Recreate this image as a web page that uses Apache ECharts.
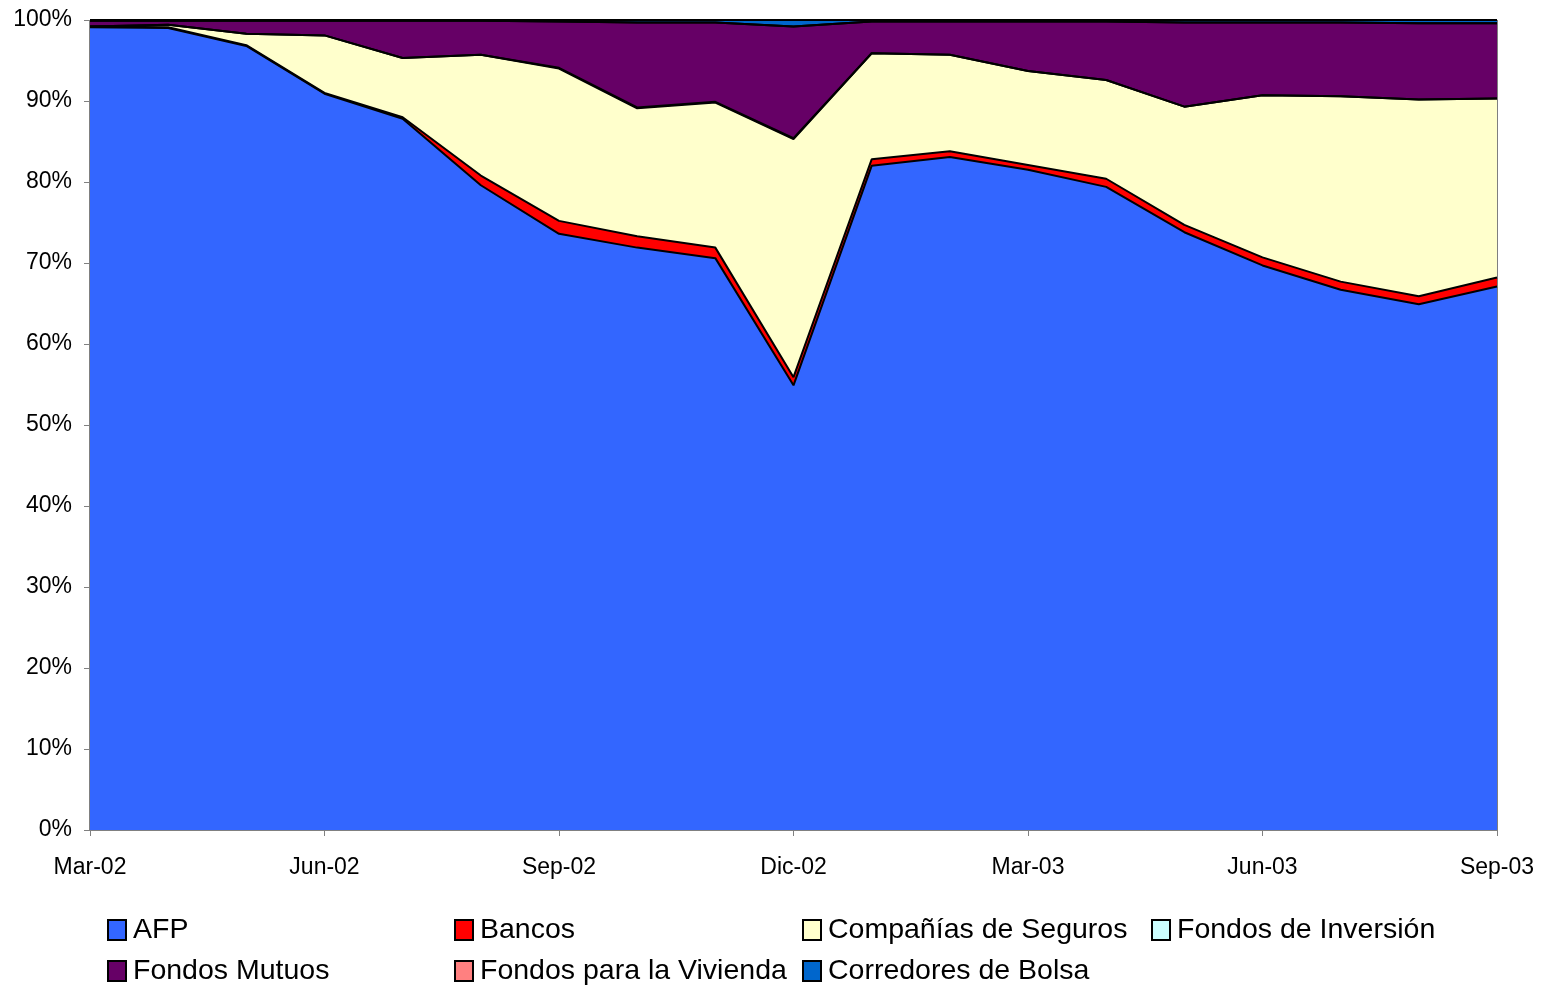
<!DOCTYPE html>
<html>
<head>
<meta charset="utf-8">
<script src="https://cdn.jsdelivr.net/npm/echarts@6/dist/echarts.min.js"></script>
<style>
  html, body { margin: 0; padding: 0; background: #fff; }
  #main { width: 1547px; height: 987px; }
</style>
</head>
<body>
<div id="main"></div>
<script>
// meses (eje x)
var months = ['Mar-02', 'Abr-02', 'May-02', 'Jun-02', 'Jul-02', 'Ago-02', 'Sep-02', 'Oct-02', 'Nov-02', 'Dic-02',
  'Ene-03', 'Feb-03', 'Mar-03', 'Abr-03', 'May-03', 'Jun-03', 'Jul-03', 'Ago-03', 'Sep-03'];

// participación (%) por tipo de inversionista
var afp        = [99.1, 99.0, 96.8, 90.9, 87.8, 79.6, 73.6, 71.9, 70.6, 54.9, 82.0, 83.1, 81.5, 79.4, 73.8, 69.7, 66.7, 64.9, 67.1];
var bancos     = [0.1, 0.1, 0.1, 0.1, 0.2, 1.2, 1.6, 1.4, 1.3, 1.0, 0.8, 0.7, 0.6, 1.0, 0.9, 1.0, 1.0, 1.0, 1.1];
var seguros    = [0.0, 0.3, 1.4, 7.1, 7.3, 14.9, 18.8, 15.8, 17.9, 29.4, 13.1, 11.9, 11.6, 12.2, 14.6, 20.0, 22.9, 24.3, 22.1];
var fInversion = [0.0, 0.0, 0.0, 0.0, 0.0, 0.0, 0.1, 0.1, 0.1, 0.1, 0.0, 0.0, 0.0, 0.0, 0.0, 0.0, 0.0, 0.0, 0.0];
var fMutuos    = [0.7, 0.5, 1.6, 1.8, 4.6, 4.2, 5.7, 10.5, 9.8, 13.8, 3.9, 4.1, 6.1, 7.2, 10.4, 9.0, 9.1, 9.4, 9.3];
var fVivienda  = [0.0, 0.0, 0.0, 0.0, 0.0, 0.0, 0.0, 0.0, 0.0, 0.0, 0.0, 0.0, 0.0, 0.0, 0.0, 0.0, 0.0, 0.0, 0.0];
var corredores = [0.1, 0.1, 0.1, 0.1, 0.1, 0.1, 0.2, 0.3, 0.3, 0.8, 0.2, 0.2, 0.2, 0.2, 0.3, 0.3, 0.3, 0.4, 0.4];

var yTicks = [0, 10, 20, 30, 40, 50, 60, 70, 80, 90, 100];

var names = ['AFP', 'Bancos', 'Compañías de Seguros', 'Fondos de Inversión', 'Fondos Mutuos', 'Fondos para la Vivienda', 'Corredores de Bolsa'];
var values = [afp, bancos, seguros, fInversion, fMutuos, fVivienda, corredores];
var colors = ['#3366FF', '#FF0000', '#FFFFCC', '#CCFFFF', '#660066', '#FF8080', '#0066CC'];

var font = 'Liberation Sans, Arial, sans-serif';

var series = names.map(function (n, i) {
  return {
    name: n,
    type: 'line',
    stack: 'total',
    symbol: 'none',
    data: values[i],
    itemStyle: { color: colors[i] },
    lineStyle: { color: '#000', width: 2 },
    areaStyle: { color: colors[i], opacity: 1 }
  };
});

// posiciones de la leyenda: 4 columnas, 2 filas
var legendLeft = [102, 449, 797, 1146, 102, 449, 797];
var legendTop = [910, 910, 910, 910, 951, 951, 951];

var legends = names.map(function (n, i) {
  return {
    left: legendLeft[i],
    top: legendTop[i],
    icon: 'rect',
    itemWidth: 18,
    itemHeight: 20,
    data: [n],
    itemStyle: { borderColor: '#000', borderWidth: 2 },
    lineStyle: { width: 0 },
    textStyle: { fontFamily: font, fontSize: 28.5, color: '#000', lineHeight: 30, padding: [0, 0, 0, 2] }
  };
});

var chart = echarts.init(document.getElementById('main'));
var option = {
  animation: false,
  backgroundColor: '#fff',
  grid: { left: 90, right: 50, top: 20, bottom: 157, show: true, borderColor: '#000', borderWidth: 1 },
  legend: legends,
  xAxis: {
    type: 'category',
    boundaryGap: false,
    data: months,
    axisLine: { lineStyle: { color: '#808080', width: 1 } },
    axisTick: { interval: 2, length: 6, lineStyle: { color: '#808080' } },
    axisLabel: { interval: 2, margin: 26, fontFamily: font, fontSize: 23, color: '#000' },
    splitLine: { show: false }
  },
  yAxis: {
    type: 'value',
    min: yTicks[0],
    max: yTicks[yTicks.length - 1],
    interval: 10,
    axisLine: { show: true, lineStyle: { color: '#808080', width: 1 } },
    axisTick: { show: true, length: 6, lineStyle: { color: '#808080' } },
    axisLabel: { margin: 18, fontFamily: font, fontSize: 23, color: '#000', formatter: '{value}%' },
    splitLine: { show: false }
  },
  series: series
};
chart.setOption(option);
</script>
</body>
</html>
